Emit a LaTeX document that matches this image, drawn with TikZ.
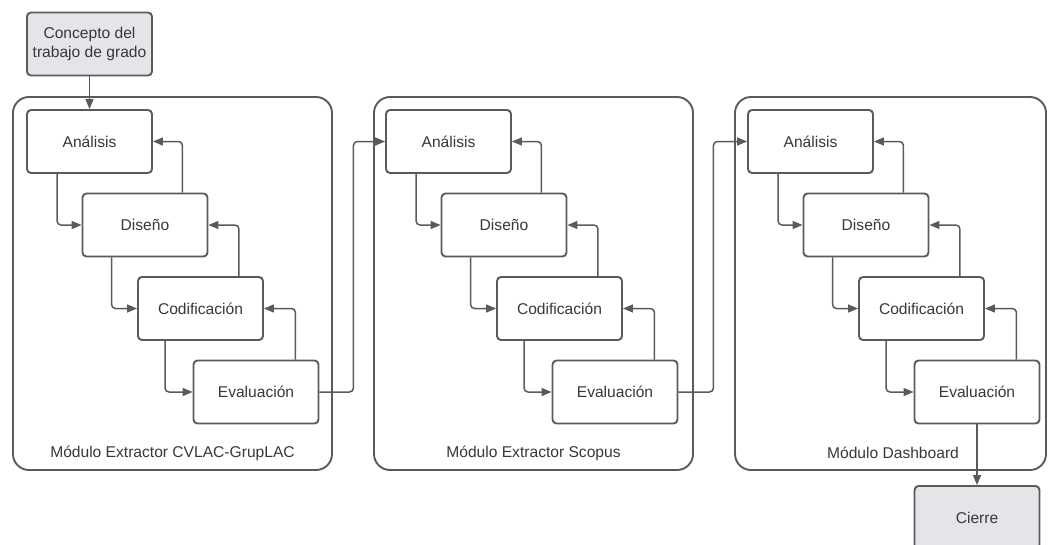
\documentclass[tikz,border=0pt]{standalone}
\usepackage{fontspec}
\setmainfont{Liberation Sans}
\usetikzlibrary{arrows.meta}
\definecolor{linegray}{HTML}{5A5A5A}
\definecolor{txtgray}{HTML}{383838}
\definecolor{boxfill}{HTML}{E3E5E9}
\begin{document}
\begin{tikzpicture}[x=1pt,y=-1pt,
  every node/.style={font=\fontsize{15.6}{19}\selectfont, text=txtgray},
  stage/.style={draw=linegray, line width=1.9pt, rounded corners=4pt,
    minimum width=125pt, minimum height=63pt, inner sep=0pt, fill=white},
  endbox/.style={stage, fill=boxfill, align=center},
  module/.style={draw=linegray, line width=1.9pt, rounded corners=16pt},
  modlabel/.style={inner sep=0pt},
  flow/.style={draw=linegray, line width=1.5pt, rounded corners=4pt,
    -{Triangle[length=10pt,width=8pt]}},
]
\useasboundingbox (0,0) rectangle (1048,544);

% module frames
\draw[module] (13,97) rectangle (332,470);
\draw[module] (374,97) rectangle (693,470);
\draw[module] (735,97) rectangle (1046,470);

\node[modlabel] (lab1) at (172.5,453) {Módulo Extractor CVLAC-GrupLAC};
\node[modlabel] (lab2) at (533.5,453) {Módulo Extractor Scopus};
\node[modlabel] (lab3) at (893,453) {Módulo Dashboard};

% start and end
\node[endbox] (concept) at (89.5,44) {Concepto del\\trabajo de grado};
\node[endbox] (cierre) at (977,517.5) {Cierre};

% the four stages of each module, in a descending cascade
\foreach \m/\x in {1/27,2/386,3/748}{
  \node[stage] (a\m) at (\x+62.5,141.5) {Análisis};
  \node[stage] (d\m) at (\x+118,225) {Diseño};
  \node[stage] (c\m) at (\x+173.5,308.5) {Codificación};
  \node[stage] (e\m) at (\x+229,392) {Evaluación};
  % forward steps
  \draw[flow] ([xshift=31pt]a\m.south west) |- (d\m.west);
  \draw[flow] ([xshift=30pt]d\m.south west) |- (c\m.west);
  \draw[flow] ([xshift=28pt]c\m.south west) |- (e\m.west);
  % feedback steps
  \draw[flow] ([xshift=-26pt]d\m.north east) |- (a\m.east);
  \draw[flow] ([xshift=-25pt]c\m.north east) |- (d\m.east);
  \draw[flow] ([xshift=-24pt]e\m.north east) |- (c\m.east);
}

% links between modules
\draw[flow] (concept.south) -- (concept.south |- a1.north);
\draw[flow] (e1.east) -- ([xshift=34pt]e1.east) |- (a2.west);
\draw[flow] (e2.east) -- ([xshift=35pt]e2.east) |- (a3.west);
\draw[flow] (e3.south) -- (e3.south |- cierre.north);
\end{tikzpicture}
\end{document}
